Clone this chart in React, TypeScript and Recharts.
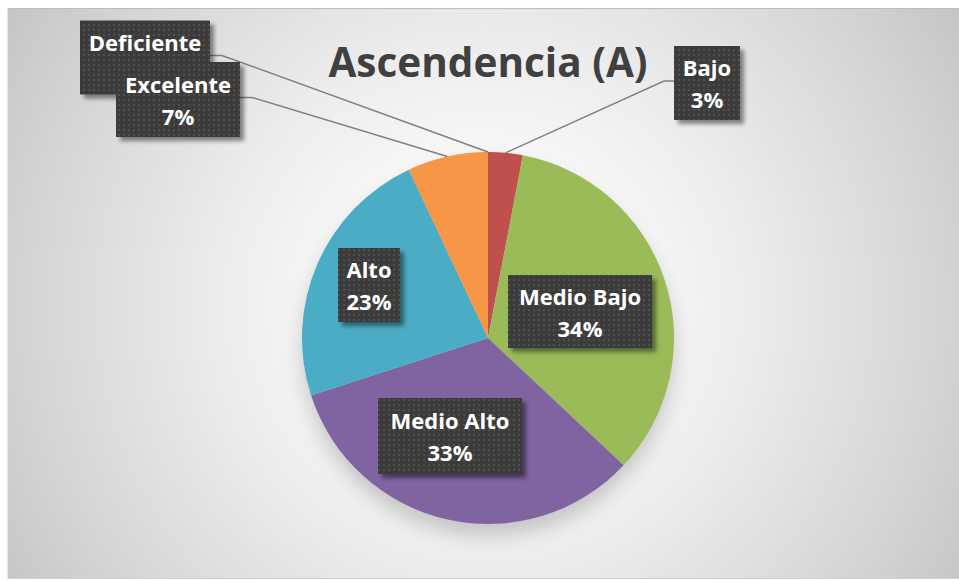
import React from 'react';
import { PieChart, Pie, Cell } from 'recharts';

const categories = ['Deficiente', 'Bajo', 'Medio Bajo', 'Medio Alto', 'Alto', 'Excelente'];
const values = [0, 3, 34, 33, 23, 7];
const colors = ['#4F81BD', '#C0504D', '#9BBB59', '#8064A2', '#4BACC6', '#F79646'];
const title = 'Ascendencia (A)';

const data = categories.map((name, i) => ({ name, value: values[i] }));

// label boxes: centre offset from pie centre, box size, leader side
const labelLayout = [
  { dx: -343, dy: -280.5, w: 130, h: 74, leader: 'right' },
  { dx: 219, dy: -255, w: 66, h: 74, leader: 'left' },
  { dx: 92, dy: -26.5, w: 144, h: 73, leader: '' },
  { dx: -38, dy: 98, w: 144, h: 76, leader: '' },
  { dx: -119, dy: -53, w: 62, h: 74, leader: '' },
  { dx: -310, dy: -238.5, w: 124, h: 75, leader: 'right' },
];

const FONT = '"Open Sans", Lato, sans-serif';

const renderLabel = (props: any) => {
  const { cx, cy, midAngle, outerRadius, percent, index, name } = props;
  const L = labelLayout[index];
  const bx = cx + L.dx;
  const by = cy + L.dy;
  const RAD = Math.PI / 180;
  const px = cx + outerRadius * Math.cos(-midAngle * RAD);
  const py = cy + outerRadius * Math.sin(-midAngle * RAD);
  let line = null;
  if (L.leader) {
    const sx = L.leader === 'right' ? bx + L.w / 2 : bx - L.w / 2;
    const ex = L.leader === 'right' ? sx + 12 : sx - 10;
    const sy = by - 2;
    line = (
      <polyline
        points={`${sx},${sy} ${ex},${sy} ${px},${py}`}
        fill="none"
        stroke="#7f7f7f"
        strokeWidth={1.4}
      />
    );
  }
  const pct = `${Math.round(percent * 100)}%`;
  return (
    <g key={`lbl-${index}`}>
      {line}
      <rect
        x={bx - L.w / 2}
        y={by - L.h / 2}
        width={L.w}
        height={L.h}
        fill="url(#dots)"
        filter="url(#boxShadow)"
      />
      <text
        x={bx}
        y={by - 16}
        textAnchor="middle"
        dominantBaseline="central"
        fill="#ffffff"
        fontFamily={FONT}
        fontWeight={700}
        fontSize={22}
      >
        {name}
      </text>
      <text
        x={bx}
        y={by + 16}
        textAnchor="middle"
        dominantBaseline="central"
        fill="#ffffff"
        fontFamily={FONT}
        fontWeight={700}
        fontSize={22}
      >
        {pct}
      </text>
    </g>
  );
};

export default function App() {
  return (
    <div
      style={{
        position: 'absolute',
        left: 7,
        top: 8,
        width: 952,
        height: 571,
        boxSizing: 'border-box',
        borderTop: '1px solid #bdbdbd',
        borderLeft: '1px solid #e6e6e6',
        borderBottom: '1px solid #d0d0d0',
        background:
          'radial-gradient(circle farthest-corner at 50% 52%, #ffffff 0%, #fbfbfb 20%, #ececec 48%, #d4d4d4 82%, #c5c5c5 100%)',
      }}
    >
      <style>{`.pie-shadow { filter: blur(7px); transform: translateY(6px); }`}</style>
      <PieChart width={952} height={570} style={{ position: 'absolute', left: -1, top: -1 }}>
        <defs>
          <pattern id="dots" width="5" height="5" patternUnits="userSpaceOnUse">
            <rect width="5" height="5" fill="#3b3b3b" />
            <rect x="1" y="1" width="2" height="2" fill="#505050" />
          </pattern>
          <filter id="boxShadow" x="-20%" y="-20%" width="150%" height="150%">
            <feDropShadow dx="4" dy="4" stdDeviation="2" floodColor="#000" floodOpacity="0.45" />
          </filter>
        </defs>
        <text
          x={481}
          y={53}
          textAnchor="middle"
          dominantBaseline="central"
          fill="#404040"
          fontFamily={FONT}
          fontWeight={700}
          fontSize={40.5}
        >
          {title}
        </text>
        <Pie
          className="pie-shadow"
          data={data}
          dataKey="value"
          nameKey="name"
          cx={476}
          cy={325}
          outerRadius={186}
          startAngle={90}
          endAngle={-270}
          stroke="none"
          fill="#000"
          fillOpacity={0.18}
          isAnimationActive={false}
          label={false}
          labelLine={false}
        />
        <Pie
          data={data}
          dataKey="value"
          nameKey="name"
          cx={476}
          cy={325}
          outerRadius={186}
          startAngle={90}
          endAngle={-270}
          stroke="none"
          isAnimationActive={false}
          label={renderLabel}
          labelLine={false}
        >
          {data.map((d, i) => (
            <Cell key={d.name} fill={colors[i]} />
          ))}
        </Pie>
      </PieChart>
    </div>
  );
}
